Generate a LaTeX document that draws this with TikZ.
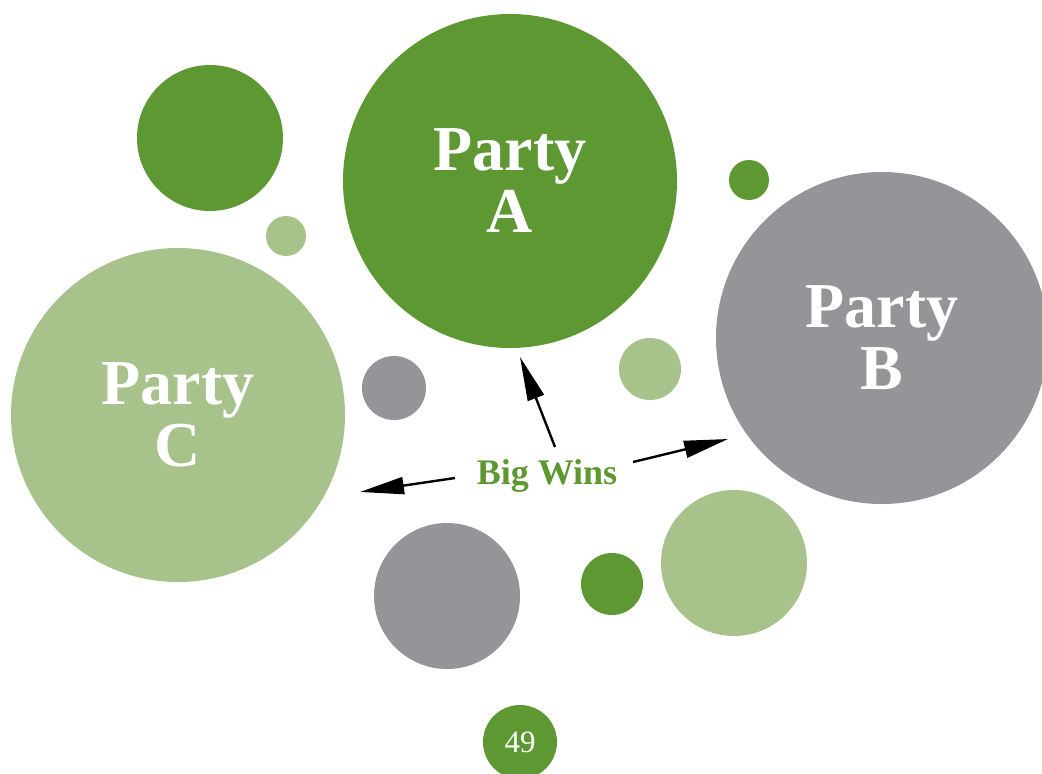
\documentclass[tikz,border=0pt]{standalone}
\usepackage{fontspec}
\setmainfont{Liberation Serif}
\usetikzlibrary{arrows.meta}
\definecolor{leaf}{HTML}{5E9833}
\definecolor{sage}{HTML}{A7C28B}
\definecolor{stone}{HTML}{959599}
\begin{document}
\begin{tikzpicture}[x=1pt,y=-1pt,
  bubble/.style={circle,inner sep=0pt,minimum size=#1},
  partylabel/.style={text=white,font=\bfseries\fontsize{64}{62}\selectfont,align=center},
  pointer/.style={line width=2.4pt,-{Triangle[length=44pt,width=17pt]}}]
\useasboundingbox (0,0) rectangle (1042,774);
% the three parties
\node[bubble=334pt,fill=leaf,partylabel] (A) at (510,181) {Party\\A};
\node[bubble=332pt,fill=stone,partylabel] (B) at (882,338) {Party\\B};
\node[bubble=334pt,fill=sage,partylabel] (C) at (178,415) {Party\\C};
% scattered smaller bubbles
\node[bubble=146pt,fill=leaf] (d1) at (210,138) {};
\node[bubble=40pt,fill=sage] (d2) at (286,236) {};
\node[bubble=40pt,fill=leaf] (d3) at (749,180) {};
\node[bubble=64pt,fill=stone] (d4) at (394,388) {};
\node[bubble=62pt,fill=sage] (d5) at (650,369) {};
\node[bubble=146pt,fill=stone] (d6) at (447,596) {};
\node[bubble=62pt,fill=leaf] (d7) at (612,584) {};
\node[bubble=146pt,fill=sage] (d8) at (734,563) {};
% page number
\node[bubble=74pt,fill=leaf,text=white,font=\fontsize{31}{31}\selectfont] (pg) at (520,742) {49};
% centre label and its arrows
\node[text=leaf,font=\bfseries\fontsize{36}{36}\selectfont] (bw) at (547,476) {Big Wins};
\coordinate (upS) at (555,447);
\coordinate (upT) at (520,357);
\coordinate (lfS) at (455,478);
\coordinate (lfT) at (360,492);
\coordinate (rtS) at (633,462);
\coordinate (rtT) at (728,439);
\draw[pointer] (upS) -- (upT);
\draw[pointer] (lfS) -- (lfT);
\draw[pointer] (rtS) -- (rtT);
\end{tikzpicture}
\end{document}
